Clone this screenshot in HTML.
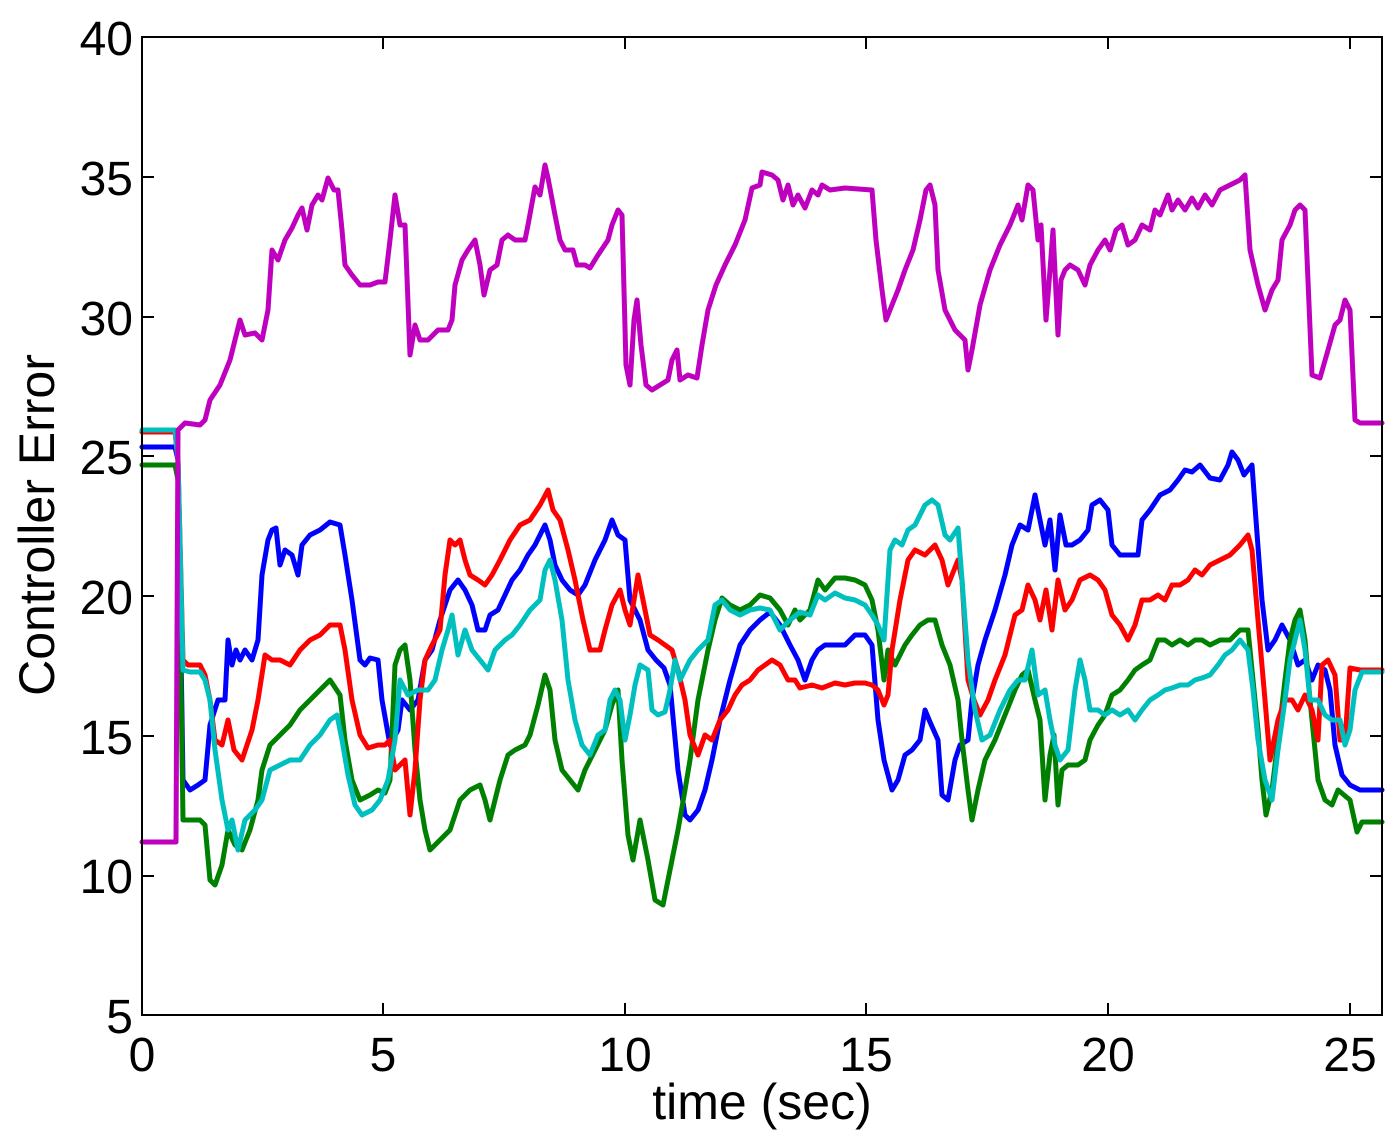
<!DOCTYPE html>
<html><head><meta charset="utf-8"><style>
html,body{margin:0;padding:0;background:#fff;}
svg{display:block;}
text{font-family:"Liberation Sans",sans-serif;fill:#000;}
</style></head><body>
<svg width="1392" height="1139" viewBox="0 0 1392 1139" xmlns="http://www.w3.org/2000/svg">
<rect width="1392" height="1139" fill="#fff"/>
<g fill="none" stroke-width="5" stroke-linejoin="round" stroke-linecap="round">
<polyline stroke="#0000ff" points="142,447 175,447 178,460 183,780 190,790 198,785 205,780 210,725 218,700 225,700 228,640 232,665 236,650 240,660 245,650 252,660 258,640 262,575 268,540 272,530 276,528 280,565 285,550 292,555 298,575 302,545 310,535 320,530 330,522 340,525 345,555 352,600 360,660 365,665 370,658 378,660 382,700 390,745 398,730 402,700 410,710 418,700 425,660 432,650 440,620 450,590 458,580 465,590 472,605 478,630 485,630 490,615 498,610 505,595 512,580 520,570 528,555 535,545 545,525 550,540 555,565 562,580 570,590 578,595 585,585 595,560 605,540 612,520 618,535 625,540 630,600 640,620 648,650 656,660 664,668 670,685 678,770 685,815 690,820 698,810 705,790 712,760 720,720 730,680 740,645 750,630 760,620 770,612 780,625 790,645 798,660 805,680 812,660 818,650 825,645 835,645 845,645 855,635 865,635 872,645 878,720 884,760 888,775 892,790 898,780 905,755 912,750 920,740 925,710 930,722 938,740 942,795 948,800 955,760 960,745 968,740 972,700 978,665 985,640 995,610 1005,575 1012,545 1020,525 1028,530 1035,495 1040,520 1045,545 1050,520 1055,570 1060,515 1066,545 1072,545 1080,540 1088,530 1092,505 1100,500 1108,510 1112,545 1120,555 1130,555 1138,555 1142,520 1150,510 1160,495 1170,490 1178,480 1185,470 1192,472 1200,465 1210,478 1220,480 1228,465 1232,452 1238,460 1244,475 1252,465 1256,520 1262,600 1268,650 1275,640 1282,625 1290,640 1298,665 1305,660 1312,680 1318,665 1325,670 1330,690 1335,745 1342,775 1350,785 1360,790 1382,790"/>
<polyline stroke="#008000" points="142,465 175,465 178,480 183,820 190,820 200,820 205,825 210,880 215,885 222,865 228,830 235,845 242,850 250,830 258,800 262,770 270,745 280,735 290,725 300,710 310,700 320,690 330,680 340,695 345,740 352,780 360,800 370,795 378,790 385,793 390,780 395,665 400,650 405,645 410,680 415,750 420,800 425,830 430,850 440,840 450,830 460,800 470,790 480,785 485,800 490,820 495,800 500,780 508,755 515,750 525,745 530,735 538,705 545,675 550,690 555,740 562,770 570,780 578,790 585,770 595,750 605,730 612,705 618,690 622,760 628,835 633,860 640,820 648,860 655,900 663,905 670,870 678,830 685,790 690,760 698,700 708,650 715,620 722,598 730,605 740,610 750,605 760,595 770,598 780,610 788,625 795,610 800,620 810,610 818,580 825,590 835,578 845,578 855,580 865,585 872,600 878,630 884,680 888,650 895,665 905,645 912,635 920,625 928,620 935,620 942,645 950,665 958,700 962,740 968,790 972,820 978,790 985,760 995,740 1005,715 1015,690 1022,675 1028,670 1035,700 1040,720 1045,800 1050,755 1054,735 1058,805 1062,770 1068,765 1078,765 1085,760 1090,740 1098,725 1105,715 1112,695 1120,690 1128,680 1135,670 1142,665 1150,660 1158,640 1165,640 1172,645 1180,640 1188,645 1195,640 1202,640 1210,645 1220,640 1230,640 1240,630 1248,630 1253,680 1258,730 1262,780 1266,815 1272,790 1278,740 1285,680 1290,640 1295,620 1300,610 1305,640 1310,700 1318,780 1325,800 1332,805 1338,790 1350,800 1357,832 1362,822 1382,822"/>
<polyline stroke="#ff0000" points="142,432 175,432 178,460 183,660 188,665 200,665 205,675 210,700 215,740 222,745 228,720 234,750 242,760 252,730 258,700 265,655 272,660 280,660 290,665 300,650 310,640 320,635 330,625 340,625 345,650 352,700 360,735 368,748 378,745 385,745 390,740 395,770 400,765 405,760 410,815 415,770 420,700 425,660 432,645 440,630 445,575 450,540 455,545 460,540 465,560 470,575 478,580 485,585 492,575 500,560 510,540 520,525 530,520 540,505 548,490 553,510 560,520 568,550 575,580 583,620 590,650 600,650 605,630 612,605 620,590 625,610 630,625 638,575 645,610 650,635 658,640 665,645 672,650 678,670 685,700 690,735 698,755 705,735 712,740 720,720 728,710 735,695 742,685 750,680 758,670 765,665 772,660 780,665 788,680 795,680 800,688 812,685 822,688 835,683 845,685 855,683 865,683 872,685 878,690 884,705 888,695 892,650 900,600 908,560 915,550 925,555 935,545 942,560 948,585 952,575 958,560 962,580 968,680 974,700 980,715 988,700 995,680 1005,655 1015,615 1022,610 1028,585 1035,600 1040,620 1046,590 1052,630 1058,580 1065,610 1072,600 1080,580 1090,575 1098,580 1105,590 1112,615 1120,625 1128,640 1135,625 1142,600 1150,600 1158,595 1165,600 1172,585 1180,585 1188,580 1195,570 1202,575 1210,565 1220,560 1230,555 1240,545 1248,535 1252,550 1258,620 1265,700 1270,760 1278,720 1285,700 1292,700 1298,710 1305,695 1312,710 1318,740 1322,665 1328,660 1335,675 1340,740 1345,740 1350,668 1360,670 1382,670"/>
<polyline stroke="#00bfbf" points="142,430 175,430 178,460 183,670 190,672 200,672 205,680 210,700 215,750 222,800 228,830 232,820 238,850 245,820 255,810 262,800 270,770 280,765 290,760 300,760 310,745 320,735 330,720 337,715 342,740 348,775 355,805 362,815 372,810 380,800 388,780 395,740 400,680 408,695 418,690 428,690 435,680 442,650 448,630 452,615 458,655 465,630 472,650 480,660 488,670 495,650 505,640 512,635 520,625 530,610 540,600 545,570 550,560 555,580 562,620 568,680 575,720 582,745 590,755 598,735 605,730 610,700 615,690 620,700 625,740 630,715 635,685 640,665 648,670 652,710 658,715 665,712 670,690 675,660 680,680 690,660 698,650 708,640 715,605 722,600 730,610 740,615 750,610 760,608 770,610 780,630 790,620 800,612 810,615 818,595 825,600 835,593 845,598 855,600 865,605 872,615 878,625 884,640 890,550 895,540 902,545 908,530 915,525 925,505 932,500 938,505 945,535 950,540 958,528 962,580 968,660 975,710 982,740 990,735 1000,710 1010,690 1018,680 1025,680 1032,650 1038,695 1045,690 1050,720 1055,745 1060,760 1068,750 1075,690 1080,660 1085,680 1090,710 1098,710 1105,715 1112,710 1120,715 1128,710 1135,720 1142,710 1150,700 1158,695 1165,690 1172,688 1180,685 1188,685 1195,680 1202,678 1210,675 1218,665 1225,655 1232,650 1240,640 1248,650 1253,690 1258,740 1265,780 1272,800 1278,750 1285,700 1290,660 1295,640 1300,620 1305,650 1310,700 1318,700 1325,715 1332,720 1340,720 1345,745 1350,730 1355,690 1362,672 1382,672"/>
<polyline stroke="#bf00bf" points="142,842 176,842 178,430 185,423 200,425 205,420 210,400 220,385 230,360 240,320 245,335 255,333 262,340 268,310 272,250 278,260 285,240 292,228 298,215 302,208 307,230 312,205 318,195 322,200 328,178 334,190 338,190 342,230 345,265 352,275 360,285 370,285 378,282 385,282 390,240 395,195 400,225 405,225 410,355 415,325 420,340 428,340 438,330 448,330 452,320 455,285 462,260 468,250 475,240 480,265 484,295 490,270 497,265 502,240 508,235 515,240 525,240 528,225 535,187 540,195 545,165 548,178 555,215 560,240 565,250 573,250 577,265 585,265 590,268 598,255 608,240 612,225 618,210 622,215 626,365 630,385 634,320 637,300 641,345 646,385 652,390 660,385 668,380 672,360 677,350 680,380 688,375 697,378 702,345 708,310 716,285 725,265 735,245 745,220 752,188 760,185 762,172 772,175 778,180 783,200 788,185 793,205 798,195 805,208 812,190 818,195 822,185 830,190 845,188 872,190 876,240 882,290 886,320 890,310 898,290 905,270 913,250 920,220 926,190 930,185 935,205 938,270 945,310 955,330 965,340 968,370 972,350 980,305 990,270 1000,245 1010,225 1018,205 1022,220 1028,185 1033,190 1038,240 1041,225 1046,320 1050,270 1053,230 1058,335 1061,280 1065,270 1070,265 1078,270 1085,285 1090,265 1098,250 1105,240 1110,250 1116,230 1122,225 1128,245 1135,240 1142,225 1150,230 1155,210 1160,215 1168,195 1172,210 1178,200 1185,210 1192,198 1198,208 1205,195 1212,205 1220,190 1230,185 1240,180 1245,175 1250,250 1258,285 1265,310 1272,290 1278,280 1282,240 1290,225 1295,210 1300,205 1305,210 1312,375 1320,378 1328,350 1335,325 1340,320 1345,300 1350,310 1355,420 1360,423 1382,423"/>
</g>
<rect x="142" y="37" width="1240" height="978" fill="none" stroke="#000" stroke-width="2"/>
<g stroke="#000" stroke-width="2">
<path d="M142,1015v-12M142,37v12M383,1015v-12M383,37v12M625,1015v-12M625,37v12M866,1015v-12M866,37v12M1108,1015v-12M1108,37v12M1350,1015v-12M1350,37v12"/>
<path d="M142,177h12M1382,177h-12M142,317h12M1382,317h-12M142,456h12M1382,456h-12M142,596h12M1382,596h-12M142,736h12M1382,736h-12M142,876h12M1382,876h-12"/>
</g>
<g font-size="48" text-anchor="middle">
<text x="142" y="1071">0</text><text x="383" y="1071">5</text><text x="625" y="1071">10</text><text x="866" y="1071">15</text><text x="1108" y="1071">20</text><text x="1350" y="1071">25</text>
</g>
<g font-size="48" text-anchor="end">
<text x="133" y="1033">5</text><text x="133" y="893">10</text><text x="133" y="754">15</text><text x="133" y="614">20</text><text x="133" y="474">25</text><text x="133" y="335">30</text><text x="133" y="195">35</text><text x="133" y="55">40</text>
</g>
<text x="762" y="1119" font-size="50" text-anchor="middle">time (sec)</text>
<text transform="translate(54,525) rotate(-90)" font-size="50" text-anchor="middle">Controller Error</text>
</svg>
</body></html>
